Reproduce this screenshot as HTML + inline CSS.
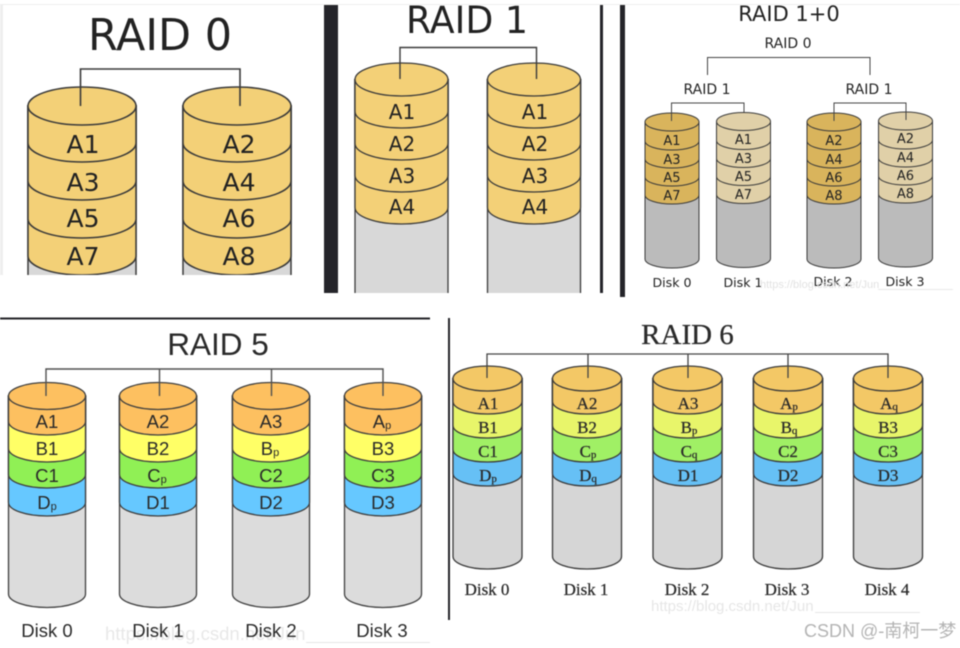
<!DOCTYPE html>
<html><head><meta charset="utf-8"><style>
html,body{margin:0;padding:0;background:#fff;width:960px;height:648px;overflow:hidden}
svg{display:block;filter:blur(.45px)}
.d{font-family:"DejaVu Sans",sans-serif;fill:#222;text-anchor:middle}
.s{font-family:"Liberation Sans",sans-serif;fill:#2a2a2a;text-anchor:middle}
.f{font-family:"Liberation Serif",serif;fill:#2a2a2a;text-anchor:middle;stroke:#2a2a2a;stroke-width:.25}
</style></head><body>
<svg width="960" height="648" viewBox="0 0 960 648" xmlns="http://www.w3.org/2000/svg">
<defs>
<clipPath id="c0"><rect x="0" y="0" width="330" height="275"/></clipPath>
<clipPath id="c1"><rect x="330" y="0" width="270" height="293"/></clipPath>
<g id="r0" stroke="#3a3a3a" stroke-width="1.5" fill="#f3d077">
<rect x="-54" y="106" width="108" height="180" fill="#d8d8d8"/>
<path d="M-54 106V256A54 19 0 0 0 54 256V106Z"/>
<path d="M-54 106V219A54 19 0 0 0 54 219V106Z"/>
<path d="M-54 106V181A54 19 0 0 0 54 181V106Z"/>
<path d="M-54 106V143A54 19 0 0 0 54 143V106Z"/>
<ellipse cx="0" cy="106" rx="54" ry="19"/>
</g>
<g id="r1" stroke="#3a3a3a" stroke-width="1.3" fill="#f3d077">
<rect x="-46.5" y="79.5" width="93" height="225" fill="#d8d8d8"/>
<path d="M-46.5 79.5V207.5A46.5 16.5 0 0 0 46.5 207.5V79.5Z"/>
<path d="M-46.5 79.5V175.5A46.5 16.5 0 0 0 46.5 175.5V79.5Z"/>
<path d="M-46.5 79.5V143.5A46.5 16.5 0 0 0 46.5 143.5V79.5Z"/>
<path d="M-46.5 79.5V111.5A46.5 16.5 0 0 0 46.5 111.5V79.5Z"/>
<ellipse cx="0" cy="79.5" rx="46.5" ry="16.5"/>
</g>
<g id="rA" stroke="#3a3a3a" stroke-width="1" fill="#d9b45c">
<path d="M-27 122V259A27 9 0 0 0 27 259V122Z" fill="#bbb"/>
<path d="M-27 122V195A27 9 0 0 0 27 195V122Z"/>
<path d="M-27 122V177A27 9 0 0 0 27 177V122Z"/>
<path d="M-27 122V159A27 9 0 0 0 27 159V122Z"/>
<path d="M-27 122V141A27 9 0 0 0 27 141V122Z"/>
<ellipse cx="0" cy="122" rx="27" ry="9"/>
</g>
<g id="rB" stroke="#3a3a3a" stroke-width="1" fill="#e0d0a8">
<path d="M-27 122V259A27 9 0 0 0 27 259V122Z" fill="#bbb"/>
<path d="M-27 122V195A27 9 0 0 0 27 195V122Z"/>
<path d="M-27 122V177A27 9 0 0 0 27 177V122Z"/>
<path d="M-27 122V159A27 9 0 0 0 27 159V122Z"/>
<path d="M-27 122V141A27 9 0 0 0 27 141V122Z"/>
<ellipse cx="0" cy="122" rx="27" ry="9"/>
</g>
<g id="r5" stroke="#3f3f3f" stroke-width="1.3">
<path d="M-38.5 396V594A38.5 13.5 0 0 0 38.5 594V396Z" fill="#dcdcdc"/>
<path d="M-38.5 396V502.5A38.5 13.5 0 0 0 38.5 502.5V396Z" fill="#66c8ff"/>
<path d="M-38.5 396V474.5A38.5 13.5 0 0 0 38.5 474.5V396Z" fill="#90f055"/>
<path d="M-38.5 396V448.5A38.5 13.5 0 0 0 38.5 448.5V396Z" fill="#ffff66"/>
<path d="M-38.5 396V421.5A38.5 13.5 0 0 0 38.5 421.5V396Z" fill="#fdc060"/>
<ellipse cx="0" cy="396" rx="38.5" ry="13.5" fill="#fdc060"/>
</g>
<g id="r6" stroke="#3a3a3a" stroke-width="1.3">
<path d="M-34.5 378.5V556.5A34.5 12.5 0 0 0 34.5 556.5V378.5Z" fill="#d6d6d6"/>
<path d="M-34.5 378.5V473.5A34.5 12.5 0 0 0 34.5 473.5V378.5Z" fill="#66c0f5"/>
<path d="M-34.5 378.5V449.5A34.5 12.5 0 0 0 34.5 449.5V378.5Z" fill="#a0f065"/>
<path d="M-34.5 378.5V425.5A34.5 12.5 0 0 0 34.5 425.5V378.5Z" fill="#e8f56a"/>
<path d="M-34.5 378.5V401.5A34.5 12.5 0 0 0 34.5 401.5V378.5Z" fill="#f3c866"/>
<ellipse cx="0" cy="378.5" rx="34.5" ry="12.5" fill="#f3c866"/>
</g>
</defs>

<!-- frame pieces -->
<rect x="0" y="4" width="960" height="1" fill="#eeeeee"/>
<rect x="0" y="5" width="3" height="270" fill="#eeeeee"/>
<rect x="324" y="5" width="14" height="288" fill="#25252a"/>
<rect x="600" y="5" width="3" height="288" fill="#25252a"/>
<rect x="620" y="5" width="5" height="292" fill="#25252a"/>
<rect x="0" y="317.5" width="430" height="2" fill="#25252a"/>
<rect x="448" y="318" width="2" height="302" fill="#25252a"/>

<!-- RAID 0 -->
<text class="d" x="160" y="50" font-size="44" textLength="144" lengthAdjust="spacingAndGlyphs">RAID 0</text>
<g clip-path="url(#c0)">
<use href="#r0" x="82"/><use href="#r0" x="237"/>
</g>
<path d="M80.500 106V69H240V106" fill="none" stroke="#3a3a3a" stroke-width="1.6"/>
<g class="d" font-size="25">
<text x="83" y="153">A1</text><text x="83" y="191">A3</text><text x="83" y="227">A5</text><text x="83" y="265">A7</text>
<text x="239" y="153">A2</text><text x="239" y="191">A4</text><text x="239" y="227">A6</text><text x="239" y="265">A8</text>
</g>

<!-- RAID 1 -->
<text class="d" x="467" y="33" font-size="37" textLength="122" lengthAdjust="spacingAndGlyphs">RAID 1</text>
<g clip-path="url(#c1)">
<use href="#r1" x="401.500"/><use href="#r1" x="534"/>
</g>
<path d="M400 79V47.500H536.500V79" fill="none" stroke="#3a3a3a" stroke-width="1.400"/>
<g class="d" font-size="20">
<text x="402" y="119">A1</text><text x="402" y="151">A2</text><text x="402" y="183">A3</text><text x="402" y="214">A4</text>
<text x="535" y="119">A1</text><text x="535" y="151">A2</text><text x="535" y="183">A3</text><text x="535" y="214">A4</text>
</g>

<!-- RAID 1+0 -->
<text class="d" x="789" y="21" font-size="21">RAID 1+0</text>
<text class="d" x="788" y="48" font-size="14">RAID 0</text>
<text class="d" x="707" y="94" font-size="14">RAID 1</text>
<text class="d" x="869" y="94" font-size="14">RAID 1</text>
<path d="M707.500 75V57.500H870V75" fill="none" stroke="#444" stroke-width="1"/>
<use href="#rA" x="672"/><use href="#rB" x="743.500" y="-.5"/>
<use href="#rA" x="834"/><use href="#rB" x="905.500" y="-1"/>
<path d="M671.500 121V103H744V112M834 121V103H906V120" fill="none" stroke="#444" stroke-width="1"/>
<g class="d" font-size="13">
<text x="672" y="145">A1</text><text x="672" y="164">A3</text><text x="672" y="182">A5</text><text x="672" y="200">A7</text>
<text x="743.500" y="144">A1</text><text x="743.500" y="163">A3</text><text x="743.500" y="181">A5</text><text x="743.500" y="199">A7</text>
<text x="834" y="145">A2</text><text x="834" y="164">A4</text><text x="834" y="182">A6</text><text x="834" y="200">A8</text>
<text x="905.500" y="143">A2</text><text x="905.500" y="162">A4</text><text x="905.500" y="180">A6</text><text x="905.500" y="198">A8</text>
</g>
<g class="d" font-size="12.600">
<text x="672" y="287">Disk 0</text><text x="743" y="287">Disk 1</text><text x="833" y="286">Disk 2</text><text x="905" y="286">Disk 3</text>
</g>
<text x="760" y="288" font-family="Liberation Sans" font-size="11" fill="#e2e2e2">https://blog.csdn.net/Jun</text>
<rect x="878" y="289" width="75" height="1" fill="#eaeaea"/>

<!-- RAID 5 -->
<text class="s" x="218" y="355" font-size="31.500">RAID 5</text>
<use href="#r5" x="47"/><use href="#r5" x="158"/><use href="#r5" x="271"/><use href="#r5" x="383"/>
<path d="M46 396V369H383V396M159.500 369V396M271.500 369V396" fill="none" stroke="#505050" stroke-width="1.400"/>
<g class="s" font-size="18.500">
<text x="47" y="428">A1</text><text x="47" y="455">B1</text><text x="47" y="482">C1</text><text x="47" y="509">D<tspan font-size="11" dy="1">p</tspan></text>
<text x="158" y="428">A2</text><text x="158" y="455">B2</text><text x="157" y="482">C<tspan font-size="11" dy="1">p</tspan></text><text x="158" y="509">D1</text>
<text x="271" y="428">A3</text><text x="270" y="455">B<tspan font-size="11" dy="1">p</tspan></text><text x="271" y="482">C2</text><text x="271" y="509">D2</text>
<text x="382" y="428">A<tspan font-size="11" dy="1">p</tspan></text><text x="383" y="455">B3</text><text x="383" y="482">C3</text><text x="383" y="509">D3</text>
</g>
<text x="105" y="640" font-family="Liberation Sans" font-size="18.500" fill="#e8e8e8">https://blog.csdn.net/Jun</text>
<rect x="306" y="642" width="124" height="1" fill="#e6e6e6"/>
<g class="s" font-size="18.500">
<text x="47" y="637">Disk 0</text><text x="158" y="637">Disk 1</text><text x="271" y="637">Disk 2</text><text x="382" y="637">Disk 3</text>
</g>

<!-- RAID 6 -->
<text class="f" x="687.500" y="344" font-size="29">RAID 6</text>
<use href="#r6" x="487.500"/><use href="#r6" x="587"/><use href="#r6" x="687.500"/><use href="#r6" x="788"/><use href="#r6" x="888"/>
<path d="M487 378V354H888V378M588 354V378M688 354V378M788 354V378" fill="none" stroke="#444" stroke-width="1.300"/>
<g class="f" font-size="17">
<text x="488" y="409">A1</text><text x="488" y="433">B1</text><text x="488" y="457">C1</text><text x="488" y="481">D<tspan font-size="11" dy="1">p</tspan></text>
<text x="587" y="409">A2</text><text x="587" y="433">B2</text><text x="588" y="457">C<tspan font-size="11" dy="1">p</tspan></text><text x="588" y="481">D<tspan font-size="11" dy="1">q</tspan></text>
<text x="688" y="409">A3</text><text x="689" y="433">B<tspan font-size="11" dy="1">p</tspan></text><text x="689" y="457">C<tspan font-size="11" dy="1">q</tspan></text><text x="688" y="481">D1</text>
<text x="789" y="409">A<tspan font-size="11" dy="1">p</tspan></text><text x="789" y="433">B<tspan font-size="11" dy="1">q</tspan></text><text x="788" y="457">C2</text><text x="788" y="481">D2</text>
<text x="889" y="409">A<tspan font-size="11" dy="1">q</tspan></text><text x="888" y="433">B3</text><text x="888" y="457">C3</text><text x="888" y="481">D3</text>
</g>
<g class="f" font-size="17">
<text x="487" y="595">Disk 0</text><text x="586" y="595">Disk 1</text><text x="687" y="595">Disk 2</text><text x="787" y="595">Disk 3</text><text x="887" y="595">Disk 4</text>
</g>
<text x="651" y="611" font-family="Liberation Sans" font-size="15" fill="#e6e6e6">https://blog.csdn.net/Jun</text>
<rect x="815" y="612" width="105" height="1" fill="#e6e6e6"/>
<text x="804" y="637" font-family="Liberation Sans, Noto Sans CJK SC, sans-serif" font-size="18" fill="#b4b4b4">CSDN @-南柯一梦</text>
</svg>
</body></html>
